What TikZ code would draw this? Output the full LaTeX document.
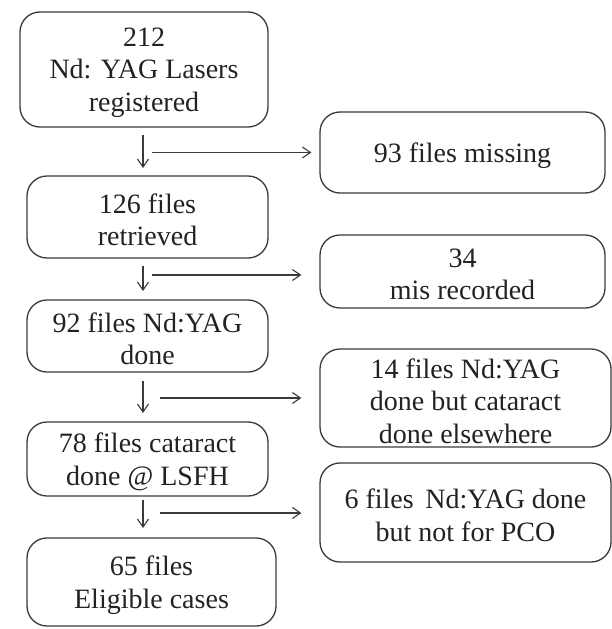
\documentclass[tikz,border=0pt]{standalone}
\usepackage{fontspec}
\setmainfont{Liberation Serif}
\usetikzlibrary{arrows.meta}
\definecolor{ink}{HTML}{222222}
\definecolor{edge}{HTML}{3A3A3A}
\tikzset{
  box/.style={draw=edge, line width=1.3pt, rounded corners=20pt, inner sep=0pt},
  lbl/.style={align=center, text=ink, inner sep=0pt, yshift=-3pt,
    font=\fontsize{28}{32.5}\selectfont},
  conn/.style={draw=edge, line width=1.1pt, -{Straight Barb[length=8pt,width=11pt]}}
}
\begin{document}
\begin{tikzpicture}[x=1pt,y=-1pt]
\useasboundingbox (0,0) rectangle (612,629);
% left column
\node[box, minimum width=248pt, minimum height=115pt, label={[lbl]center:212\\Nd: YAG Lasers\\registered}] (a) at (144,69.5) {};
\node[box, minimum width=241pt, minimum height=82pt, label={[lbl]center:126 files\\retrieved}] (b) at (147.5,217) {};
\node[box, minimum width=241pt, minimum height=72pt, label={[lbl]center:92 files Nd:YAG\\done}] (c) at (147.5,336) {};
\node[box, minimum width=241pt, minimum height=74pt, label={[lbl]center:78 files cataract\\done @ LSFH}] (d) at (147.5,459) {};
\node[box, minimum width=249pt, minimum height=88pt, label={[lbl]center:65 files\\Eligible cases}] (e) at (151.5,582) {};
% right column
\node[box, minimum width=285pt, minimum height=81pt, label={[lbl]center:93 files missing}] (r1) at (462.5,152.5) {};
\node[box, minimum width=285pt, minimum height=73pt, label={[lbl]center:34\\mis recorded}] (r2) at (462.5,271.5) {};
\node[box, minimum width=291pt, minimum height=98pt, label={[lbl]center:14 files Nd:YAG\\done but cataract\\done elsewhere}] (r3) at (465.5,398) {};
\node[box, minimum width=291pt, minimum height=99pt, label={[lbl]center:6 files\, Nd:YAG done\\but not for PCO}] (r4) at (465.5,512.5) {};
% down arrows
\draw[conn] (143,135) -- (143,168);
\draw[conn] (143,266) -- (143,291);
\draw[conn] (143,381) -- (143,413);
\draw[conn] (143,500) -- (143,528);
% side arrows
\coordinate (s1) at (152,152.5);
\coordinate (s2) at (152,275);
\coordinate (s3) at (160,398);
\coordinate (s4) at (160,513);
\draw[conn, shorten >=8pt] (s1) -- (r1.west |- s1);
\draw[conn, shorten >=18pt] (s2) -- (r2.west |- s2);
\draw[conn, shorten >=18pt] (s3) -- (r3.west |- s3);
\draw[conn, shorten >=18pt] (s4) -- (r4.west |- s4);
\end{tikzpicture}
\end{document}
